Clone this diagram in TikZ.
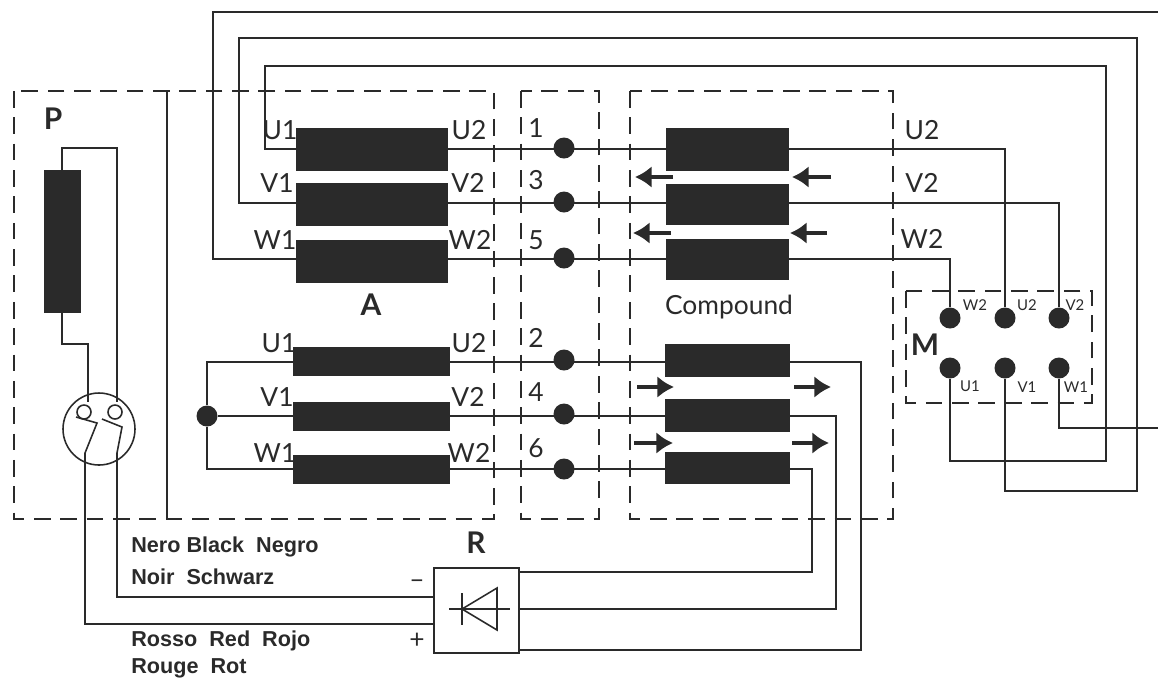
\documentclass[tikz,border=0pt]{standalone}
\usepackage{fontspec}
\setmainfont{Lato}
\newfontfamily\capfont{Liberation Sans}
\usetikzlibrary{arrows.meta,shapes}
\definecolor{ink}{HTML}{2A2A2A}

\begin{document}
\begin{tikzpicture}[x=0.02cm,y=-0.02cm,color=ink]
	\tikzstyle{arrow}=[draw, -{Latex[length=9.5pt,width=12.5pt]}, line width=2.6pt]
	\tikzstyle{wire}=[draw, line width=0.9pt]
	\tikzstyle{dashbox}=[draw, line width=0.9pt, dash pattern=on 9.5pt off 5.5pt]
	\tikzstyle{coil}=[draw, fill=ink, inner sep=0pt, minimum height=0.84cm]
	\tikzstyle{dot}=[circle, fill=ink, inner sep=0pt, minimum size=0.42cm]
	\tikzstyle{lab}=[inner sep=0pt, font=\fontsize{15}{15}\selectfont]
	\tikzstyle{tiny}=[inner sep=0pt, font=\fontsize{8.5}{9}\selectfont]
	\tikzstyle{big}=[inner sep=0pt, font=\bfseries\fontsize{17}{17}\selectfont]
	\tikzstyle{note}=[inner sep=0pt, anchor=west, font=\capfont\bfseries\fontsize{12.3}{13}\selectfont]
	\newcommand\XAmid{371.5}
	\newcommand\XCmid{727.5}
	\newcommand\XDot{564}
	\newcommand\YU{149}
	\newcommand\YV{203}
	\newcommand\YW{259}
	\newcommand\YLu{362}
	\newcommand\YLv{416}
	\newcommand\YLw{469}

	\useasboundingbox (0,0) rectangle (1158,681);

	% Dashed boxes
	\path [dashbox] (14,91) rectangle (494,519);
	\path [dashbox] (521,91) rectangle (599,519);
	\path [dashbox] (630,91) rectangle (893,519);
	\path [dashbox] (906,291) rectangle (1092,403);
	\path [wire] (167,91) -- (167,519);

	% Armature coils
	\node [coil, minimum width=3.02cm] at (\XAmid,\YU) (au) {};
	\node [coil, minimum width=3.02cm] at (\XAmid,\YV+1) (av) {};
	\node [coil, minimum width=3.02cm] at (\XAmid,\YW+2) (aw) {};
	\node [coil, minimum width=3.12cm, minimum height=0.56cm] at (\XAmid,\YLu-1) (bu) {};
	\node [coil, minimum width=3.12cm, minimum height=0.56cm] at (\XAmid,\YLv) (bv) {};
	\node [coil, minimum width=3.12cm, minimum height=0.56cm] at (\XAmid,\YLw) (bw) {};

	% Compound coils
	\node [coil, minimum width=2.44cm] at (\XCmid,\YU) (cu) {};
	\node [coil, minimum width=2.44cm, minimum height=0.8cm] at (\XCmid,\YV+1) (cv) {};
	\node [coil, minimum width=2.44cm, minimum height=0.8cm] at (\XCmid,\YW) (cw) {};
	\node [coil, minimum width=2.48cm, minimum height=0.64cm] at (\XCmid,\YLu-2) (du) {};
	\node [coil, minimum width=2.48cm, minimum height=0.64cm] at (\XCmid,\YLv-1) (dv) {};
	\node [coil, minimum width=2.48cm, minimum height=0.62cm] at (\XCmid,\YLw-1) (dw) {};

	% Field coil and rectifier
	\node [coil, minimum width=0.72cm, minimum height=2.84cm] at (62,241) (pcoil) {};
	\node [draw, line width=0.9pt, inner sep=0pt, minimum width=1.7cm, minimum height=1.7cm] at (476.5,610.5) (rbox) {};
	\node [draw, circle, line width=0.9pt, inner sep=0pt, minimum size=1.44cm] at (99,429) (pring) {};
	\node [draw, circle, line width=0.9pt, inner sep=0pt, minimum size=0.28cm] at (84,412) (pl) {};
	\node [draw, circle, line width=0.9pt, inner sep=0pt, minimum size=0.28cm] at (115,412) (pr) {};

	% Terminals
	\node [dot] at (\XDot,\YU-1) (t1) {};
	\node [dot] at (\XDot,\YV-1) (t3) {};
	\node [dot] at (\XDot,\YW-1) (t5) {};
	\node [dot] at (\XDot,\YLu-2) (t2) {};
	\node [dot] at (\XDot,\YLv-2) (t4) {};
	\node [dot] at (\XDot,\YLw) (t6) {};
	\node [dot] at (207,\YLv) (star) {};
	\node [dot] at (950,318) (mw2) {};
	\node [dot] at (1005,318) (mu2) {};
	\node [dot] at (1059,318) (mv2) {};
	\node [dot] at (950,368) (mu1) {};
	\node [dot] at (1005,368) (mv1) {};
	\node [dot] at (1059,368) (mw1) {};

	\coordinate (rminus) at (434,597);
	\coordinate (rplus) at (434,624);
	\coordinate (rtop) at (519,572);
	\coordinate (rmid) at (519,609);
	\coordinate (rlow) at (519,650);
	\coordinate (edgeW) at (1158,12);
	\coordinate (edgeZ) at (1158,428);
	\coordinate (pla) at (88,402);
	\coordinate (pra) at (117,402);

	% Path Wires
	\path [wire] (au) -- (t1.center |- au) -- (cu);
	\path [wire] (av.east |- 0,\YV) -- (cv.west |- 0,\YV);
	\path [wire] (aw.east |- 0,\YW) -- (cw);
	\path [wire] (bu.east |- 0,\YLu) -- (du.west |- 0,\YLu);
	\path [wire] (bv) -- (dv.west |- 0,\YLv);
	\path [wire] (bw) -- (dw.west |- 0,\YLw);
	\path [wire] (cu) -| (mu2);
	\path [wire] (cv.east |- 0,\YV) -| (mv2);
	\path [wire] (cw) -| (mw2);
	\path [wire] (au) -| (265,66) -| (1106,461) -| (mu1);
	\path [wire] (av.west |- 0,\YV) -| (239,38) -| (1137,491) -| (mv1);
	\path [wire] (aw.west |- 0,\YW) -| (213,12) -- (edgeW);
	\path [wire] (mw1) |- (edgeZ);
	\path [wire] (bu.west |- 0,\YLu) -| (star);
	\path [wire] (bv) -- (star);
	\path [wire] (bw) -| (star);
	\path [wire] (du.east |- 0,\YLu) -| (861,650) -- (rlow);
	\path [wire] (dv.east |- 0,\YLv) -| (836,609) -- (rmid);
	\path [wire] (dw.east |- 0,\YLw) -| (812,572) -- (rtop);
	\path [wire] (pcoil) |- (117,148) -- (pra);
	\path [wire] (pcoil) |- (88,344) -- (pla);
	\path [wire] (76,417) -- (97,423) -- (85,453) |- (rplus);
	\path [wire] (102,419) -- (122,427) -- (117,453) |- (rminus);

	% Diode
	\path [wire] (449,609) -- (510,609);
	\path [wire] (462,593) -- (462,625);
	\path [wire] (497,588) -- (462,609) -- (497,630) -- cycle;

	% Path Arrows
	\path [arrow] (673,177) -- (635,177);
	\path [arrow] (831,177) -- (792,177);
	\path [arrow] (671,233) -- (633,233);
	\path [arrow] (827,233) -- (790,233);
	\path [arrow] (637,387) -- (674,387);
	\path [arrow] (794,387) -- (831,387);
	\path [arrow] (634,443) -- (673,443);
	\path [arrow] (792,443) -- (829,443);

	% Labels
	\node [big] at (53,119) (lP) {P};
	\node [big] at (371,305) (lA) {A};
	\node [big] at (925,345) (lM) {M};
	\node [big] at (476,543) (lR) {R};
	\node [lab] at (729,307) (lC) {Compound};
	\node [lab] at (280,130) (l1) {U1};
	\node [lab] at (277,183) (l2) {V1};
	\node [lab] at (275,240) (l3) {W1};
	\node [lab] at (469,130) (l4) {U2};
	\node [lab] at (468,183) (l5) {V2};
	\node [lab] at (470,240) (l6) {W2};
	\node [lab] at (279,343) (l7) {U1};
	\node [lab] at (277,397) (l8) {V1};
	\node [lab] at (275,453) (l9) {W1};
	\node [lab] at (469,343) (l10) {U2};
	\node [lab] at (468,397) (l11) {V2};
	\node [lab] at (469,453) (l12) {W2};
	\node [lab] at (536,128) (n1) {1};
	\node [lab] at (536,180) (n3) {3};
	\node [lab] at (536,240) (n5) {5};
	\node [lab] at (536,338) (n2) {2};
	\node [lab] at (536,392) (n4) {4};
	\node [lab] at (536,448) (n6) {6};
	\node [lab] at (922,130) (m1) {U2};
	\node [lab] at (922,183) (m2) {V2};
	\node [lab] at (922,239) (m3) {W2};
	\node [tiny] at (975,305) (s1) {W2};
	\node [tiny] at (1027,305) (s2) {U2};
	\node [tiny] at (1075,305) (s3) {V2};
	\node [tiny] at (970,386) (s4) {U1};
	\node [tiny] at (1027,387) (s5) {V1};
	\node [tiny] at (1076,387) (s6) {W1};
	\node [note] at (131,547) (c1) {Nero Black\ \ Negro};
	\node [note] at (131,577) (c2) {Noir\ \ Schwarz};
	\node [note] at (131,641) (c3) {Rosso\ \ Red\ \ Rojo};
	\node [note] at (131,668) (c4) {Rouge\ \ Rot};
	\node [lab] at (417,584) (minus) {\textendash};
	\node [lab] at (417,641) (plus) {+};
\end{tikzpicture}
\end{document}
